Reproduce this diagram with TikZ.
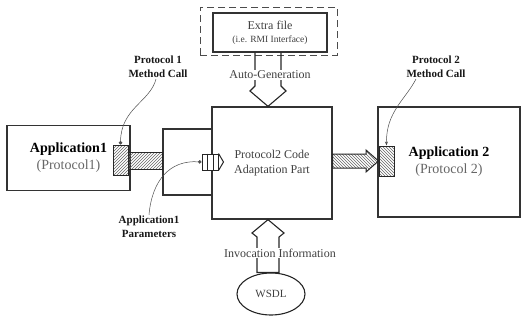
\documentclass[tikz,border=0pt]{standalone}
\usepackage{fontspec}
\setmainfont{Liberation Serif}
\usetikzlibrary{arrows.meta,patterns,shapes.geometric}

\begin{document}
\begin{tikzpicture}[x=1pt,y=-1pt,
    boxline/.style={draw=black!80, line width=1.3pt},
    appbox/.style={boxline, fill=white, inner sep=0pt, align=center},
    hatchbox/.style={draw=black!85, line width=1pt, pattern color=black!60, inner sep=0pt, minimum width=15pt, minimum height=30pt},
    hollow/.style={draw=black!85, line width=1.1pt, line join=miter},
    callout/.style={draw=black!70, line width=0.5pt},
    tag/.style={font=\fontsize{11}{14}\selectfont\bfseries, align=center, text=black!90, inner sep=1pt},
    plain/.style={font=\fontsize{12}{15}\selectfont, align=center, text=black!75, inner sep=1pt}]

  \useasboundingbox (0,0) rectangle (523,322);

  % Generated interface file
  \node[draw=black!70, line width=0.9pt, dash pattern=on 7pt off 4pt, minimum width=137pt, minimum height=48pt] (extrawrap) at (268.5,31) {};
  \node[appbox, minimum width=114pt, minimum height=39pt, text=black!75] (extra) at (270,32.5)
    {\fontsize{12}{14}\selectfont Extra file\\[1pt]\fontsize{9.5}{11}\selectfont (i.e. RMI Interface)};

  % Boxes
  \node[boxline, minimum width=49pt, minimum height=66pt] (joint) at (187.5,162) {};
  \node[appbox, minimum width=120pt, minimum height=112pt, text=black!75, font=\fontsize{12}{15}\selectfont] (adapt) at (272,163)
    {Protocol2 Code\\Adaptation Part};
  \node[appbox, minimum width=123pt, minimum height=65pt, font=\fontsize{14}{17}\selectfont] (app1) at (68.5,158)
    {\textbf{Application1}\\\textcolor{black!60}{(Protocol1)}};
  \node[appbox, minimum width=142pt, minimum height=110pt, font=\fontsize{14}{17}\selectfont] (app2) at (449,162)
    {\textbf{Application 2}\\\textcolor{black!60}{(Protocol 2)}};

  % Method call ends
  \node[hatchbox, pattern=north east lines] (p1hatch) at (120.5,160) {};
  \node[hatchbox, pattern=north west lines] (p2hatch) at (386.5,161) {};
  \draw[hatchbox, pattern=north east lines] ([yshift=7.5pt]p1hatch.east) rectangle ([yshift=-7.5pt]joint.west);
  \draw[hatchbox, pattern=north west lines] (adapt.east |- 0,154) -- (366,154) -- (366,150) -- (p2hatch.west)
    -- (366,172) -- (366,168) -- (adapt.east |- 0,168) -- cycle;

  % Parameter plug
  \node[draw=black!85, line width=1pt, fill=white, minimum width=16pt, minimum height=16pt, inner sep=0pt] (plug) at (210,162) {};
  \draw[black!85, line width=0.8pt] ([xshift=-3pt]plug.north) -- ([xshift=-3pt]plug.south)
    ([xshift=3pt]plug.north) -- ([xshift=3pt]plug.south);
  \draw[black!85, line width=1pt] (plug.north east) -- ([xshift=5pt]plug.east) -- (plug.south east);

  % Auto-generation
  \draw[hollow] ([xshift=-15pt]extra.south) -- (255,86) -- (250,91) -- ([xshift=-4pt]adapt.north)
    -- (286,91) -- (281,86) -- ([xshift=11pt]extra.south);
  \node[plain, fill=white] (autogen) at (270,75) {Auto-Generation};

  % Invocation information
  \node[draw=black!85, line width=1.1pt, ellipse, minimum width=68pt, minimum height=42pt, inner sep=0pt,
    font=\fontsize{11}{13}\selectfont, text=black!75] (wsdl) at (271,294) {WSDL};
  \draw[hollow] ([xshift=-14pt]wsdl.north) -- (257,237) -- (252,233) -- ([xshift=-4pt]adapt.south)
    -- (284,233) -- (279,237) -- ([xshift=8pt]wsdl.north) -- cycle;
  \node[plain, fill=white] (invoc) at (280,253) {Invocation Information};

  % Labels
  \node[tag] (m1tag) at (158,67) {Protocol 1\\Method Call};
  \node[tag] (m2tag) at (436,67) {Protocol 2\\Method Call};
  \node[tag] (partag) at (149,227) {Application1\\Parameters};
  \draw[callout, -{Circle[length=3.5pt]}] ([xshift=-2pt]m1tag.south) .. controls (150,102) and (121,108) .. (p1hatch.north);
  \draw[callout, -{Stealth[length=4pt]}] ([xshift=-20pt]m2tag.south) .. controls (405,100) and (386,112) .. (p2hatch.north);
  \draw[callout, -{Circle[length=3.5pt]}] (partag.north) .. controls (152,180) and (170,160) .. (plug.west);
\end{tikzpicture}
\end{document}
